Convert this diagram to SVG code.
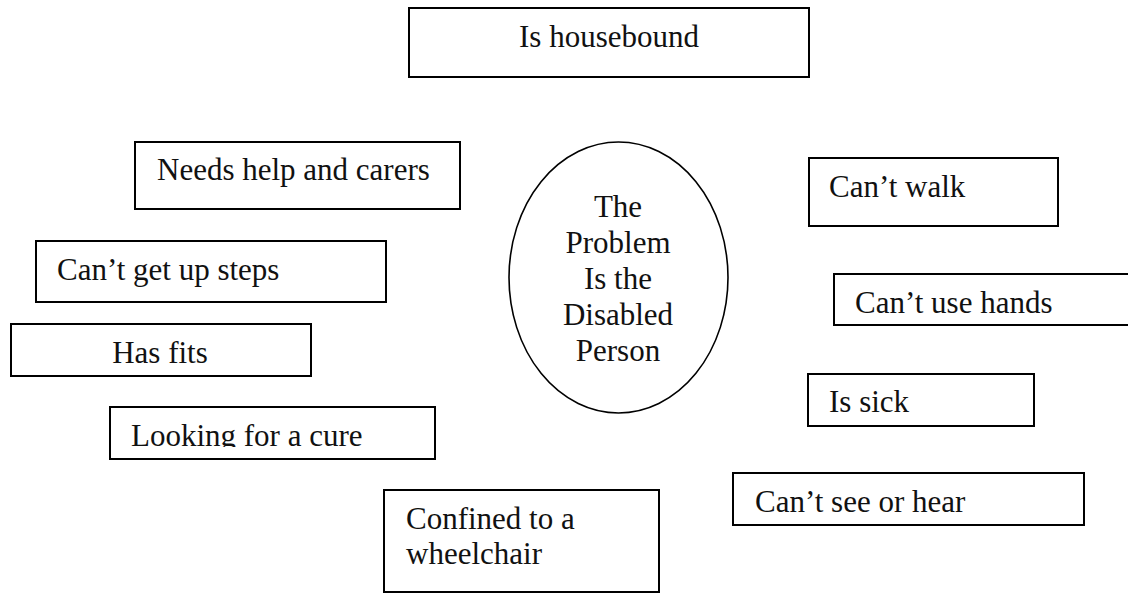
<svg xmlns="http://www.w3.org/2000/svg" width="1128" height="594" viewBox="0 0 1128 594">
<style>
.box{fill:#fff;stroke:#000;stroke-width:2}
.ell{fill:#fff;stroke:#000;stroke-width:1.6}
text{font-family:"Liberation Serif","Times New Roman",serif;font-size:31px;fill:#111}
.mid{text-anchor:middle}
</style>
<defs>
<clipPath id="clipCure"><rect x="110" y="407" width="326" height="40"/></clipPath>
</defs>
<rect width="1128" height="594" fill="#fff"/>
<g id="connectors"/>
<g id="n-housebound">
<rect class="box" x="409" y="8" width="400" height="69"/>
<text class="mid" x="609" y="47">Is housebound</text>
</g>
<g id="n-needs-help">
<rect class="box" x="135" y="142" width="325" height="67"/>
<text x="157" y="180">Needs help and carers</text>
</g>
<g id="n-steps">
<rect class="box" x="36" y="241" width="350" height="61"/>
<text x="57" y="280">Can’t get up steps</text>
</g>
<g id="n-fits">
<rect class="box" x="11" y="324" width="300" height="52"/>
<text class="mid" x="160" y="363">Has fits</text>
</g>
<g id="n-cure">
<rect class="box" x="110" y="407" width="325" height="52"/>
<text x="131" y="446" clip-path="url(#clipCure)">Looking for a cure</text>
</g>
<g id="n-center">
<ellipse class="ell" cx="618.5" cy="277.5" rx="109.5" ry="135.5"/>
<text class="mid" x="618" y="217">The</text>
<text class="mid" x="618" y="253">Problem</text>
<text class="mid" x="618" y="289">Is the</text>
<text class="mid" x="618" y="325">Disabled</text>
<text class="mid" x="618" y="361">Person</text>
</g>
<g id="n-walk">
<rect class="box" x="809" y="158" width="249" height="68"/>
<text x="829" y="197">Can’t walk</text>
</g>
<g id="n-hands">
<rect class="box" x="834" y="274" width="310" height="51"/>
<text x="855" y="313">Can’t use hands</text>
</g>
<g id="n-sick">
<rect class="box" x="808" y="374" width="226" height="52"/>
<text x="829" y="412">Is sick</text>
</g>
<g id="n-see-hear">
<rect class="box" x="733" y="473" width="351" height="52"/>
<text x="755" y="512">Can’t see or hear</text>
</g>
<g id="n-wheelchair">
<rect class="box" x="384" y="490" width="275" height="102"/>
<text x="406" y="529">Confined to a</text>
<text x="406" y="564">wheelchair</text>
</g>
</svg>
